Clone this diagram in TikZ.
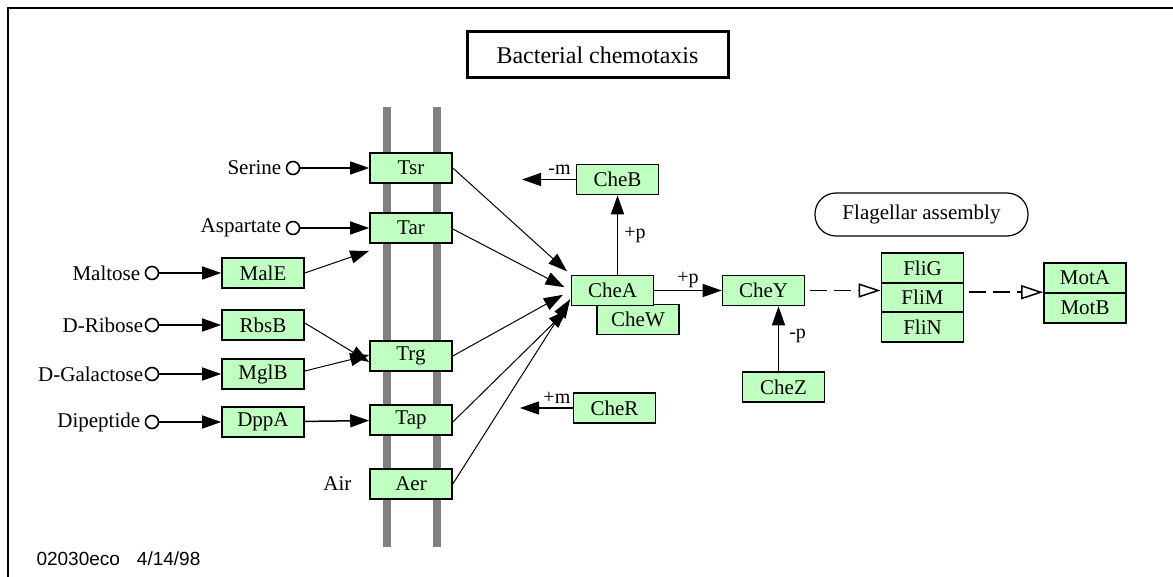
\documentclass[tikz,border=0pt]{standalone}
\usepackage{fontspec}
\setmainfont{Liberation Serif}
\setsansfont{Liberation Sans}
\usetikzlibrary{arrows.meta,positioning}
\definecolor{genegreen}{RGB}{191,255,191}
\definecolor{membgray}{RGB}{128,128,128}

\begin{document}
\begin{tikzpicture}[x=1pt,y=-1pt,font=\fontsize{21}{24}\selectfont,
   gene/.style={draw,line width=1.6pt,fill=genegreen,minimum width=82pt,
                minimum height=30pt,inner sep=0pt},
   ligand/.style={draw,circle,line width=1.6pt,minimum size=13pt,inner sep=0pt},
   modlabel/.style={font=\fontsize{20}{22}\selectfont,inner sep=1pt},
   act/.style={-{Triangle[length=19pt,width=13pt]},line width=1.5pt},
   sig/.style={-{Triangle[length=19pt,width=13pt]},line width=1pt},
   flow/.style={-{Triangle[open,length=22pt,width=14pt]},line width=1.5pt,
                dash pattern=on 17pt off 7pt}]
  \useasboundingbox (0,0) rectangle (1173,577);
  \draw[line width=2.2pt] (8,577) -- (8,8) -- (1173,8);
  % membrane
  \draw[membgray,line width=8pt] (387,107) -- (387,547);
  \draw[membgray,line width=8pt] (437,107) -- (437,547);
  \node[draw,line width=3pt,minimum width=261pt,minimum height=46pt,
        font=\fontsize{24}{26}\selectfont] (title) at (597.5,55) {Bacterial chemotaxis};
  % receptors
  \node[gene] (tsr) at (411,168) {Tsr};
  \node[gene] (tar) at (411,228) {Tar};
  \node[gene] (trg) at (411,356) {Trg};
  \node[gene] (tap) at (411,420) {Tap};
  \node[gene] (aer) at (411,484) {Aer};
  % periplasmic binding proteins
  \node[gene] (male) at (263,273) {MalE};
  \node[gene] (rbsb) at (263,325) {RbsB};
  \node[gene] (mglb) at (263,374) {MglB};
  \node[gene] (dppa) at (263,422) {DppA};
  % ligands
  \node[ligand] (ser) at (293,168) {};
  \node[ligand] (asp) at (293,228) {};
  \node[ligand] (mal) at (152,273) {};
  \node[ligand] (rib) at (152,325) {};
  \node[ligand] (gal) at (152,374) {};
  \node[ligand] (dip) at (152,422) {};
  \node[left=1pt of ser] (serlbl) {Serine};
  \node[left=1pt of asp] (asplbl) {Aspartate};
  \node[left=1pt of mal] (mallbl) {Maltose};
  \node[left=-2pt of rib] (riblbl) {D-Ribose};
  \node[left=-2pt of gal] (gallbl) {D-Galactose};
  \node[left=1pt of dip] (diplbl) {Dipeptide};
  \node[anchor=east] (air) at (355,484) {Air};
  \draw[act] (ser) -- (tsr);
  \draw[act] (asp) -- (tar);
  \draw[act] (mal) -- (male);
  \draw[act] (rib) -- (rbsb);
  \draw[act] (gal) -- (mglb);
  \draw[act] (dip) -- (dppa);
  \draw[sig] (male.east) -- ([yshift=-7pt]tar.south west);
  \draw[sig] ([yshift=2pt]rbsb.east) -- ([yshift=-6pt]trg.west);
  \draw[sig] ([yshift=3pt]mglb.east) -- ([yshift=1pt]trg.west);
  \draw[act] (dppa) -- (tap);
  % cytoplasmic proteins
  \node[gene] (cheb) at (617.5,179.5) {CheB};
  \node[gene] (chew) at (638,319.5) {CheW};
  \node[gene] (chea) at (612.5,290.5) {CheA};
  \node[gene] (chey) at (763.5,290.5) {CheY};
  \node[gene] (chez) at (783.5,387) {CheZ};
  \node[gene] (cher) at (614.5,408) {CheR};
  \draw[sig,shorten >=5pt] (tsr.east) -- (chea.north west);
  \draw[sig,shorten >=7pt] ([yshift=-1pt]tar.east) -- (chea.west);
  \draw[sig,shorten >=9pt] (trg.east) -- (chea.west);
  \draw[sig,shorten >=5pt] ([yshift=-2pt]tap.east) -- (chea.south west);
  \draw[sig,shorten >=1pt] (aer.east) -- ([yshift=8pt]chea.south west);
  \draw[act] ([xshift=5pt]chea.north) -- (cheb.south) node[modlabel,midway,right=5pt] (pcheb) {+p};
  \draw[act] (chea) -- (chey) node[modlabel,midway,above=1pt] (pchey) {+p};
  \draw[act] ([xshift=-5pt]chez.north) -- ([xshift=-5pt]chez.north |- chey.south)
    node[modlabel,pos=0.55,right=9pt] (pchez) {-p};
  \coordinate (mminus) at (522,179.5);
  \coordinate (mplus) at (520,408);
  \draw[act] (cheb) -- (mminus) node[modlabel,pos=0.3,above=3pt] (mblbl) {-m};
  \draw[act] (cher) -- (mplus) node[modlabel,pos=0.3,above=3pt] (mrlbl) {+m};
  % flagellar motor
  \node[draw,line width=1.2pt,rounded corners=21pt,minimum width=213pt,minimum height=43pt] (flag) at (921.5,214.5) {Flagellar assembly};
  \node[gene,minimum height=29.5pt] (flig) at (922.5,268) {FliG};
  \node[gene,minimum height=29.5pt] (flim) at (922.5,297.5) {FliM};
  \node[gene,minimum height=29.5pt] (flin) at (922.5,327) {FliN};
  \node[gene] (mota) at (1085,278) {MotA};
  \node[gene] (motb) at (1085,308) {MotB};
  \draw[flow,shorten <=5pt] (chey.east) -- (chey.east -| flim.west);
  \draw[flow,shorten <=5pt] (flim.east |- motb.north) -- (motb.north west);
  \node[anchor=west,font=\sffamily\fontsize{19}{21}\selectfont] (code) at (33,559) {02030eco\hspace{17pt}4/14/98};
\end{tikzpicture}
\end{document}
